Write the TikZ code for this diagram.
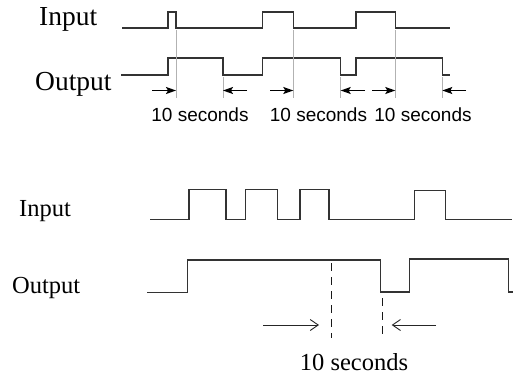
\documentclass[tikz,border=0pt]{standalone}
\usepackage{fontspec}
\setmainfont{Liberation Serif}
\newfontfamily\labelsans{Liberation Sans}
\usetikzlibrary{arrows.meta}

\begin{document}
\begin{tikzpicture}[x=1pt,y=-1pt,
  wave/.style={line width=1.4pt, draw=black!80, line join=miter},
  lowwave/.style={line width=1.2pt, draw=black!80, line join=miter},
  guide/.style={line width=0.9pt, draw=black!30},
  span/.style={line width=1.2pt, -{Stealth[length=10pt,width=7pt,inset=2pt]}},
  openspan/.style={line width=0.9pt, draw=black!85, -{Straight Barb[length=8pt,width=11pt,line width=0.9pt]}},
  mark dash/.style={line width=0.85pt, draw=black!90, dash pattern=on 8pt off 6pt},
  biglabel/.style={anchor=base west, inner sep=0pt, font=\fontsize{27.5}{30}\selectfont},
  smalllabel/.style={anchor=base west, inner sep=0pt, font=\fontsize{24.5}{27}\selectfont},
  sanstime/.style={anchor=base, inner sep=0pt, font=\labelsans\fontsize{19}{21}\selectfont},
  seriftime/.style={anchor=base, inner sep=0pt, font=\fontsize{24.5}{27}\selectfont}]

\useasboundingbox (0,0) rectangle (513,375);

% ---------- upper timing chart ----------
\node[biglabel] (inA) at (39,25) {Input};
\node[biglabel] (outA) at (35,90.5) {Output};

\draw[wave] (122,28) -- (168,28) -- (168,12) -- (176,12) -- (176,28)
  -- (262.7,28) -- (262.7,12) -- (293.3,12) -- (293.3,28)
  -- (356,28) -- (356,12) -- (395.3,12) -- (395.3,28) -- (450,28);

\draw[wave] (121,75) -- (168,75) -- (168,58) -- (223,58) -- (223,75)
  -- (262.7,75) -- (262.7,58) -- (340.7,58) -- (340.7,75)
  -- (356,75) -- (356,58) -- (442.3,58) -- (442.3,75) -- (450,75);

% guide lines at the edges
\draw[guide] (176,30) -- (176,98);
\draw[guide] (223,77) -- (223,98);
\draw[guide] (293.3,30) -- (293.3,98);
\draw[guide] (340.7,77) -- (340.7,98);
\draw[guide] (395.3,30) -- (395.3,98);
\draw[guide] (442.3,77) -- (442.3,98);

% interval arrows
\coordinate (a1s) at (152,90.5);   \coordinate (a1e) at (176,90.5);
\coordinate (a2s) at (247,90.5);   \coordinate (a2e) at (223,90.5);
\coordinate (a3s) at (270,90.5);   \coordinate (a3e) at (293.3,90.5);
\coordinate (a4s) at (365,90.5);   \coordinate (a4e) at (340.7,90.5);
\coordinate (a5s) at (372,90.5);   \coordinate (a5e) at (395.3,90.5);
\coordinate (a6s) at (466,90.5);   \coordinate (a6e) at (442.3,90.5);
\draw[span] (a1s) -- (a1e);
\draw[span] (a2s) -- (a2e);
\draw[span] (a3s) -- (a3e);
\draw[span] (a4s) -- (a4e);
\draw[span] (a5s) -- (a5e);
\draw[span] (a6s) -- (a6e);

\node[sanstime] (t1) at (200,121.5) {10 seconds};
\node[sanstime] (t2) at (318.5,121.5) {10 seconds};
\node[sanstime] (t3) at (423,121.5) {10 seconds};

% ---------- lower timing chart ----------
\node[smalllabel] (inB) at (19,216) {Input};
\node[smalllabel] (outB) at (12,293.5) {Output};

\draw[lowwave] (150,219.3) -- (189,219.3) -- (189,189.5) -- (226,189.5) -- (226,219.3)
  -- (245.3,219.3) -- (245.3,189.5) -- (277.3,189.5) -- (277.3,219.3)
  -- (300,219.3) -- (300,189.5) -- (329,189.5) -- (329,219.3)
  -- (414.3,219.3) -- (414.3,190.5) -- (445.7,190.5) -- (445.7,219.3) -- (512,219.3);

\draw[lowwave] (147.3,292.7) -- (187.3,292.7) -- (187.3,260) -- (380.7,260) -- (380.7,292)
  -- (409.3,292) -- (409.3,259) -- (508.3,259) -- (508.3,292) -- (513,292);

\draw[mark dash] (331,263) -- (331,338);
\draw[mark dash] (382.3,298) -- (382.3,338);

\coordinate (b1s) at (263.3,325); \coordinate (b1e) at (319,325);
\coordinate (b2s) at (436,325);   \coordinate (b2e) at (391.7,325);
\draw[openspan] (b1s) -- (b1e);
\draw[openspan] (b2s) -- (b2e);

\node[seriftime] (t4) at (354,370) {10 seconds};

\end{tikzpicture}
\end{document}
